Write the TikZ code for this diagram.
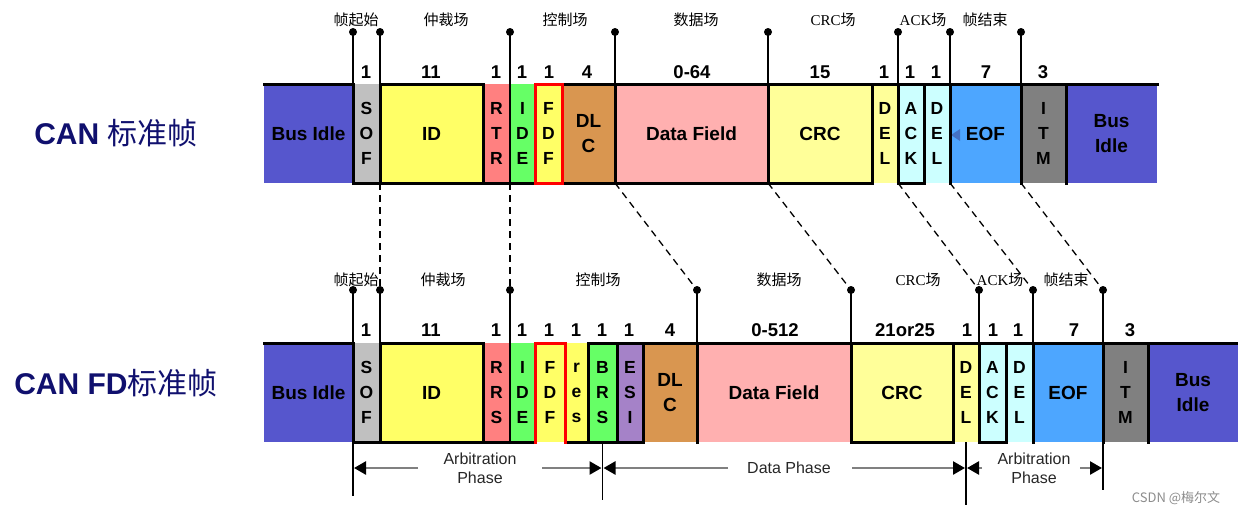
\documentclass[tikz,border=0pt]{standalone}
\usepackage{fontspec}
\usepackage{graphicx}
\setmainfont{Liberation Sans}
\newfontfamily\cjk{Noto Sans CJK SC}
\newfontfamily\lserif{Liberation Serif}
\usetikzlibrary{arrows.meta}
\definecolor{busblue}{RGB}{86,86,205}
\definecolor{sofgray}{RGB}{192,192,192}
\definecolor{idyel}{RGB}{255,255,102}
\definecolor{rtrred}{RGB}{255,128,128}
\definecolor{idegreen}{RGB}{102,255,102}
\definecolor{dlcbrown}{RGB}{217,150,80}
\definecolor{datapink}{RGB}{255,176,176}
\definecolor{crcyel}{RGB}{255,255,153}
\definecolor{ackcyan}{RGB}{204,255,255}
\definecolor{eofblue}{RGB}{77,166,255}
\definecolor{itmgray}{RGB}{128,128,128}
\definecolor{esipurple}{RGB}{165,130,200}
\definecolor{navy}{RGB}{16,16,110}
\definecolor{tribl}{RGB}{68,114,196}
\newcommand\lbig{\fontsize{19}{24}\selectfont}
\newcommand\fld[7]{\node[field,fill=#6,minimum width={#3-#2},minimum height={#5-#4}] (#1) at ({(#2+#3)/2},{(#4+#5)/2}) {#7};}
\begin{document}
\begin{tikzpicture}[x=1pt,y=-1pt,
  field/.style={inner sep=0pt,outer sep=0pt,align=center,font=\fontsize{17.5}{25}\selectfont\bfseries},
  frm/.style={line width=3pt,line cap=rect,line join=miter},
  redfrm/.style={line width=3pt,red,line cap=rect,line join=miter},
  dotnode/.style={circle,fill=black,inner sep=0pt,minimum size=8pt},
  mkline/.style={line width=2pt},
  dashcon/.style={line width=1.3pt,dash pattern=on 7pt off 5pt},
  num/.style={inner sep=0pt,font=\fontsize{18.5}{20}\selectfont\bfseries},
  zh/.style={inner sep=0pt,font=\fontsize{15}{17}\selectfont\cjk},
  phasetxt/.style={inner sep=0pt,align=center,text=black!85,font=\fontsize{16}{19}\selectfont},
  pharrow/.style={line width=2.5pt,black!50,-{Triangle[black,length=12pt,width=13pt]}},
  phline/.style={line width=1.6pt},
  title/.style={inner sep=0pt,text=navy,font=\fontsize{30}{34}\selectfont}]
\useasboundingbox (0,0) rectangle (1238,515);
% ---------------- titles
\node[title] (t1) at (116,133) {{\bfseries CAN} {\cjk 标准帧}};
\node[title] (t2) at (116,383) {{\bfseries CAN FD}{\cjk 标准帧}};
% ---------------- top frame fields
\fld{tBI}{264}{353}{84}{183}{busblue}{\lbig Bus Idle}
\fld{tSOF}{353}{380}{84}{183}{sofgray}{S\\O\\F}
\fld{tID}{380}{483}{84}{183}{idyel}{\lbig ID}
\fld{tRTR}{483}{510}{84}{183}{rtrred}{R\\T\\R}
\fld{tIDE}{510}{535}{84}{183}{idegreen}{I\\D\\E}
\fld{tFDF}{535}{562}{84}{183}{idyel}{F\\D\\F}
\fld{tDLC}{562}{615}{84}{183}{dlcbrown}{\lbig DL\\\lbig C}
\fld{tDATA}{615}{768}{84}{183}{datapink}{\lbig Data Field}
\fld{tCRC}{768}{872}{84}{183}{crcyel}{\lbig CRC}
\fld{tDEL}{872}{898}{84}{183}{crcyel}{D\\E\\L}
\fld{tACK}{898}{924}{84}{183}{ackcyan}{A\\C\\K}
\fld{tDELb}{924}{950}{84}{183}{ackcyan}{D\\E\\L}
\fld{tEOF}{950}{1021}{84}{183}{eofblue}{\lbig EOF}
\fld{tITM}{1021}{1066}{84}{183}{itmgray}{I\\T\\M}
\fld{tBIb}{1066}{1157}{84}{183}{busblue}{\lbig Bus\\\lbig Idle}
\fill[tribl] (951,135) -- (960,129) -- (960,141) -- cycle;
% top frame outline
\draw[frm] (264,84) -- (353,84) -- (353,183) -- (535,183);
\draw[frm] (380,183) -- (380,84) -- (483,84) -- (483,183);
\draw[frm] (562,183) -- (872,183) -- (872,84);
\draw[frm] (562,84) -- (1157,84);
\draw[frm] (615,84) -- (615,183);
\draw[frm] (768,84) -- (768,183);
\draw[frm] (898,84) -- (898,183) -- (924,183) -- (924,84);
\draw[frm] (950,84) -- (950,183);
\draw[frm] (1021,84) -- (1021,183);
\draw[frm] (1066,84) -- (1066,183);
\draw[redfrm] (535,84) rectangle (562,183);
% top markers
\node[dotnode] (tm1) at (353,32) {};
\node[dotnode] (tm2) at (380,32) {};
\node[dotnode] (tm3) at (510,32) {};
\node[dotnode] (tm4) at (615,32) {};
\node[dotnode] (tm5) at (768,32) {};
\node[dotnode] (tm6) at (898,32) {};
\node[dotnode] (tm7) at (950,32) {};
\node[dotnode] (tm8) at (1021,32) {};
\draw[mkline] (tm1.center) -- (tSOF.south west);
\draw[mkline] (tm2.center) -- (tID.south west);
\draw[mkline] (tm3.center) -- (tIDE.south west);
\draw[mkline] (tm4.center) -- (tDATA.north west);
\draw[mkline] (tm5.center) -- (tCRC.north west);
\draw[mkline] (tm6.center) -- (tACK.north west);
\draw[mkline] (tm7.center) -- (tEOF.north west);
\draw[mkline] (tm8.center) -- (tITM.north west);
% top labels
\node[zh] (tz1) at (356,20) {帧起始};
\node[zh] (tz2) at (446,20) {仲裁场};
\node[zh] (tz3) at (565,20) {控制场};
\node[zh] (tz4) at (696,20) {数据场};
\node[zh] (tz5) at (833,20) {{\lserif CRC}场};
\node[zh] (tz6) at (923,20) {{\lserif ACK}场};
\node[zh] (tz7) at (985,20) {帧结束};
\node[num] (tn1) at (366,72) {1};
\node[num] (tn2) at (431,72) {11};
\node[num] (tn3) at (496,72) {1};
\node[num] (tn4) at (522,72) {1};
\node[num] (tn5) at (549,72) {1};
\node[num] (tn6) at (587,72) {4};
\node[num] (tn7) at (692,72) {0-64};
\node[num] (tn8) at (820,72) {15};
\node[num] (tn9) at (884,72) {1};
\node[num] (tn10) at (910,72) {1};
\node[num] (tn11) at (936,72) {1};
\node[num] (tn12) at (986,72) {7};
\node[num] (tn13) at (1043,72) {3};
% ---------------- bottom frame fields
\fld{bBI}{264}{353}{343}{442}{busblue}{\lbig Bus Idle}
\fld{bSOF}{353}{380}{343}{442}{sofgray}{S\\O\\F}
\fld{bID}{380}{483}{343}{442}{idyel}{\lbig ID}
\fld{bRRS}{483}{510}{343}{442}{rtrred}{R\\R\\S}
\fld{bIDE}{510}{535}{343}{442}{idegreen}{I\\D\\E}
\fld{bFDF}{535}{565}{343}{442}{idyel}{F\\D\\F}
\fld{bRES}{565}{588}{343}{442}{idyel}{r\\e\\s}
\fld{bBRS}{588}{617}{343}{442}{idegreen}{B\\R\\S}
\fld{bESI}{617}{643}{343}{442}{esipurple}{E\\S\\I}
\fld{bDLC}{643}{697}{343}{442}{dlcbrown}{\lbig DL\\\lbig C}
\fld{bDATA}{697}{851}{343}{442}{datapink}{\lbig Data Field}
\fld{bCRC}{851}{953}{343}{442}{crcyel}{\lbig CRC}
\fld{bDEL}{953}{979}{343}{442}{crcyel}{D\\E\\L}
\fld{bACK}{979}{1006}{343}{442}{ackcyan}{A\\C\\K}
\fld{bDELb}{1006}{1033}{343}{442}{ackcyan}{D\\E\\L}
\fld{bEOF}{1033}{1103}{343}{442}{eofblue}{\lbig EOF}
\fld{bITM}{1103}{1148}{343}{442}{itmgray}{I\\T\\M}
\fld{bBIb}{1148}{1238}{343}{442}{busblue}{\lbig Bus\\\lbig Idle}
% bottom frame outline
\draw[frm] (264,343) -- (353,343) -- (353,442) -- (535,442);
\draw[frm] (380,442) -- (380,343) -- (483,343) -- (483,442);
\draw[frm] (565,442) -- (643,442);
\draw[frm] (588,442) -- (588,343) -- (1238,343);
\draw[frm] (617,343) -- (617,442);
\draw[frm] (643,343) -- (643,442);
\draw[frm] (697,343) -- (697,442);
\draw[frm] (851,343) -- (851,442) -- (953,442) -- (953,343);
\draw[frm] (979,343) -- (979,442) -- (1006,442) -- (1006,343);
\draw[frm] (1033,343) -- (1033,442);
\draw[frm] (1103,343) -- (1103,442);
\draw[frm] (1148,343) -- (1148,442);
\draw[redfrm] (535,442) -- (535,343) -- (565,343) -- (565,442);
% bottom markers
\node[dotnode] (bm1) at (353,290) {};
\node[dotnode] (bm2) at (380,290) {};
\node[dotnode] (bm3) at (510,290) {};
\node[dotnode] (bm4) at (697,290) {};
\node[dotnode] (bm5) at (851,290) {};
\node[dotnode] (bm6) at (979,290) {};
\node[dotnode] (bm7) at (1033,290) {};
\node[dotnode] (bm8) at (1103,290) {};
\draw[mkline] (bm1.center) -- (bSOF.south west);
\draw[mkline] (bm2.center) -- (bID.south west);
\draw[mkline] (bm3.center) -- (bIDE.south west);
\draw[mkline] (bm4.center) -- (bDATA.north west);
\draw[mkline] (bm5.center) -- (bCRC.north west);
\draw[mkline] (bm6.center) -- (bACK.north west);
\draw[mkline] (bm7.center) -- (bEOF.north west);
\draw[mkline] (bm8.center) -- (bITM.north west);
% bottom labels
\node[zh] (bz1) at (356,280) {帧起始};
\node[zh] (bz2) at (443,280) {仲裁场};
\node[zh] (bz3) at (598,280) {控制场};
\node[zh] (bz4) at (779,280) {数据场};
\node[zh] (bz5) at (918,280) {{\lserif CRC}场};
\node[zh] (bz6) at (1000,280) {{\lserif ACK}场};
\node[zh] (bz7) at (1066,280) {帧结束};
\node[num] (bn1) at (366,330) {1};
\node[num] (bn2) at (431,330) {11};
\node[num] (bn3) at (496,330) {1};
\node[num] (bn4) at (522,330) {1};
\node[num] (bn5) at (549,330) {1};
\node[num] (bn6) at (576,330) {1};
\node[num] (bn7) at (602,330) {1};
\node[num] (bn8) at (629,330) {1};
\node[num] (bn9) at (670,330) {4};
\node[num] (bn10) at (775,330) {0-512};
\node[num] (bn11) at (905,330) {21or25};
\node[num] (bn12) at (967,330) {1};
\node[num] (bn13) at (993,330) {1};
\node[num] (bn14) at (1018,330) {1};
\node[num] (bn15) at (1074,330) {7};
\node[num] (bn16) at (1130,330) {3};
% dashed connectors between frames
\draw[dashcon] (tID.south west) -- (bm2);
\draw[dashcon] (tIDE.south west) -- (bm3);
\draw[dashcon] (tDATA.south west) -- (bm4);
\draw[dashcon] (tCRC.south west) -- (bm5);
\draw[dashcon] (tACK.south west) -- (bm6);
\draw[dashcon] (tEOF.south west) -- (bm7);
\draw[dashcon] (tITM.south west) -- (bm8);
% phase annotations
\coordinate (pv1) at (353,496);
\coordinate (pv2) at (602.5,500);
\coordinate (pv3) at (966,505);
\coordinate (pv4) at (1103,490);
\draw[phline] (bSOF.south west) -- (pv1);
\draw[phline] (bBRS.south) -- (pv2);
\draw[phline] (bDEL.south) -- (pv3);
\draw[phline] (bITM.south west) -- (pv4);
\coordinate (a1) at (354,468);
\coordinate (a1s) at (418,468);
\coordinate (a2) at (601.5,468);
\coordinate (a2s) at (542,468);
\coordinate (a3) at (603.5,468);
\coordinate (a3s) at (728,468);
\coordinate (a4) at (965,468);
\coordinate (a4s) at (852,468);
\coordinate (a5) at (967,468);
\coordinate (a5s) at (982,468);
\coordinate (a6) at (1102,468);
\coordinate (a6s) at (1080,468);
\draw[pharrow] (a1s) -- (a1);
\draw[pharrow] (a2s) -- (a2);
\draw[pharrow] (a3s) -- (a3);
\draw[pharrow] (a4s) -- (a4);
\draw[pharrow] (a5s) -- (a5);
\draw[pharrow] (a6s) -- (a6);
\node[phasetxt] (ph1) at (480,468) {Arbitration\\Phase};
\node[phasetxt] (ph2) at (789,468) {Data Phase};
\node[phasetxt] (ph3) at (1034,468) {Arbitration\\Phase};
% watermark
\node[inner sep=0pt,text=black!45,font=\fontsize{13}{15}\selectfont\cjk] (wm) at (1176,498) {CSDN @梅尔文};
\end{tikzpicture}
\end{document}
